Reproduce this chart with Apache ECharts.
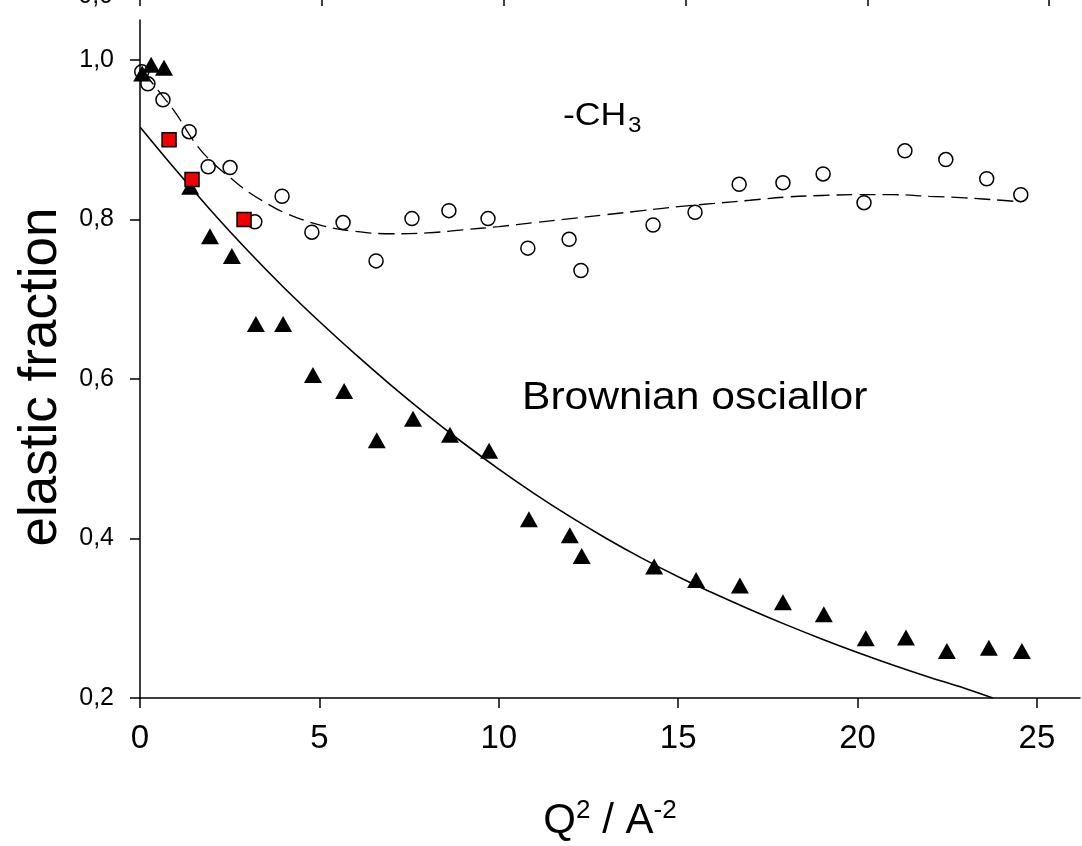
<!DOCTYPE html>
<html>
<head>
<meta charset="utf-8">
<script src="https://cdn.jsdelivr.net/npm/echarts@6/dist/echarts.min.js"></script>
<style>
html,body{margin:0;padding:0;background:#fff;}
#chart{width:1082px;height:846px;}
</style>
</head>
<body>
<div id="chart"></div>
<script>
// ---- data ----
var xTicks = [0, 5, 10, 15, 20, 25];
var yTicks = [0.2, 0.4, 0.6, 0.8, 1.0];

// open circles (-CH3)
var ch3X = [0.05, 0.22, 0.64, 1.37, 1.9, 2.51, 3.2, 3.96, 4.79, 5.66, 6.58, 7.58, 8.61, 9.7, 10.81, 11.96, 12.29, 14.3, 15.47, 16.7, 17.92, 19.04, 20.18, 21.32, 22.46, 23.6, 24.55];
var ch3Y = [0.985, 0.97, 0.95, 0.91, 0.866, 0.865, 0.797, 0.829, 0.784, 0.796, 0.748, 0.801, 0.811, 0.801, 0.764, 0.775, 0.736, 0.793, 0.809, 0.844, 0.846, 0.857, 0.821, 0.886, 0.875, 0.851, 0.831];

// filled triangles (Brownian oscillator)
var brX = [0.06, 0.31, 0.67, 1.4, 1.95, 2.56, 3.23, 3.99, 4.82, 5.69, 6.6, 7.61, 8.64, 9.73, 10.84, 11.98, 12.31, 14.33, 15.5, 16.72, 17.92, 19.06, 20.23, 21.35, 22.49, 23.66, 24.58];
var brY = [0.983, 0.994, 0.99, 0.841, 0.779, 0.754, 0.669, 0.669, 0.605, 0.585, 0.523, 0.55, 0.53, 0.51, 0.424, 0.404, 0.378, 0.365, 0.348, 0.341, 0.32, 0.305, 0.275, 0.276, 0.259, 0.263, 0.259];

// red squares
var redX = [0.81, 1.45, 2.9];
var redY = [0.9, 0.85, 0.8];

// solid fit curve
var fitBrX = [0, 1, 2, 3, 4, 5, 6, 7, 8, 9, 10, 11, 12, 13, 14, 15, 16, 17, 18, 19, 20, 21, 22, 23, 23.77];
var fitBrY = [0.916, 0.862, 0.81, 0.761, 0.715, 0.672, 0.631, 0.592, 0.555, 0.52, 0.487, 0.456, 0.427, 0.4, 0.375, 0.352, 0.331, 0.311, 0.292, 0.274, 0.257, 0.241, 0.226, 0.212, 0.2];

// dashed fit curve
var fitCh3X = [0.1, 0.5, 1, 1.5, 2, 2.5, 3, 3.5, 4, 5, 6, 7, 8, 9, 10, 11, 12, 13, 14, 15, 16, 17, 18, 19, 20, 21, 22, 23, 24, 24.55];
var fitCh3Y = [0.985, 0.962, 0.933, 0.898, 0.872, 0.853, 0.835, 0.821, 0.809, 0.793, 0.785, 0.782, 0.783, 0.787, 0.791, 0.796, 0.801, 0.806, 0.811, 0.816, 0.82, 0.824, 0.828, 0.83, 0.831, 0.831, 0.829, 0.827, 0.824, 0.822];

// cropped neighbouring panel above (only its bottom ticks are visible)
var upperXTicks = [0, 5, 10, 15, 20, 25];
var upperYLabel = '0,0';

function zip(a, b) { return a.map(function (v, i) { return [v, b[i]]; }); }
function comma(v, d) { return v.toFixed(d).replace('.', ','); }

var FONT = "'Liberation Sans', Arial, Helvetica, sans-serif";
var chart = echarts.init(document.getElementById('chart'), null, {renderer: 'canvas'});

var option = {
  backgroundColor: '#ffffff',
  animation: false,
  textStyle: {fontFamily: FONT, color: '#000'},
  grid: {left: 140, right: 2, top: 20, bottom: 148, containLabel: false, outerBoundsMode: 'none'},
  xAxis: [
    {
      type: 'value', min: 0, max: 26.2, position: 'bottom',
      axisLine: {show: true, onZero: false, lineStyle: {color: '#000', width: 1.5}},
      axisTick: {show: true, inside: false, length: 10, customValues: xTicks, lineStyle: {color: '#000', width: 1.5}},
      axisLabel: {show: true, customValues: xTicks, fontSize: 33, color: '#000', margin: 24, fontFamily: FONT,
                  formatter: function (v) { return String(v); }},
      splitLine: {show: false},
      name: '{b|Q}{s|2}{b| / A}{s|-2}', nameLocation: 'middle', nameGap: 100,
      nameTextStyle: {rich: {
        b: {fontSize: 42, fontFamily: FONT, color: '#000', lineHeight: 46},
        s: {fontSize: 26, fontFamily: FONT, color: '#000', verticalAlign: 'top', lineHeight: 46, padding: [0, 0, 22, 0]}
      }}
    },
    {
      // bottom axis of the cropped panel above
      type: 'value', min: 0, max: 25.85, position: 'top', offset: 21,
      axisLine: {show: true, onZero: false, lineStyle: {color: '#000', width: 1.5}},
      axisTick: {show: true, inside: true, length: 7, customValues: upperXTicks, lineStyle: {color: '#000', width: 1.5}},
      axisLabel: {show: false},
      splitLine: {show: false}
    }
  ],
  yAxis: {
    type: 'value', min: 0.2, max: 1.05,
    axisLine: {show: true, onZero: false, lineStyle: {color: '#000', width: 1.5}},
    axisTick: {show: true, inside: false, length: 10, customValues: yTicks, lineStyle: {color: '#000', width: 1.5}},
    axisLabel: {show: true, customValues: yTicks, fontSize: 25, color: '#000', margin: 26, fontFamily: FONT,
                formatter: function (v) { return comma(v, 1); }},
    splitLine: {show: false},
    name: 'elastic fraction', nameLocation: 'middle', nameGap: 69, nameRotate: 90,
    nameTextStyle: {fontSize: 53, fontFamily: FONT, color: '#000', padding: [0, 36, 0, 0]}
  },
  series: [
    {
      name: 'CH3 fit', type: 'line', xAxisIndex: 0, yAxisIndex: 0,
      data: zip(fitCh3X, fitCh3Y), smooth: 0.4, showSymbol: false, symbol: 'none',
      lineStyle: {color: '#000', width: 1.3, type: [16, 7]}, z: 2, silent: true
    },
    {
      name: 'Brownian fit', type: 'line', xAxisIndex: 0, yAxisIndex: 0,
      data: zip(fitBrX, fitBrY), smooth: 0.4, showSymbol: false, symbol: 'none',
      lineStyle: {color: '#000', width: 1.6}, z: 2, silent: true
    },
    {
      name: '-CH3', type: 'scatter', xAxisIndex: 0, yAxisIndex: 0,
      data: zip(ch3X, ch3Y), symbol: 'circle', symbolSize: 14,
      itemStyle: {color: 'rgba(255,255,255,0)', borderColor: '#000', borderWidth: 1.5, opacity: 1}, z: 3
    },
    {
      name: 'Brownian', type: 'scatter', xAxisIndex: 0, yAxisIndex: 0,
      data: zip(brX, brY), symbol: 'triangle', symbolSize: [18, 16],
      itemStyle: {color: '#000', opacity: 1}, z: 4
    },
    {
      name: 'red', type: 'scatter', xAxisIndex: 0, yAxisIndex: 0,
      data: zip(redX, redY), symbol: 'rect', symbolSize: 14,
      itemStyle: {color: '#f00000', borderColor: '#000', borderWidth: 1.5, opacity: 1}, z: 5
    }
  ],
  graphic: [
    {
      type: 'text', left: 563, top: 101, scaleX: 1.15, z: 10,
      style: {text: '-CH', fontFamily: FONT, fontSize: 31, fill: '#000'}
    },
    {
      type: 'text', left: 628, top: 115, scaleX: 1.1, z: 10,
      style: {text: '3', fontFamily: FONT, fontSize: 22, fill: '#000'}
    },
    {
      type: 'text', left: 522, top: 380, scaleX: 1.12, z: 10,
      style: {text: 'Brownian osciallor', fontFamily: FONT, fontSize: 38, fill: '#000'}
    },
    {
      type: 'text', right: 1082 - 113, top: -16, z: 10,
      style: {text: upperYLabel, fontFamily: FONT, fontSize: 25, fill: '#000'}
    }
  ]
};
chart.setOption(option);
</script>
</body>
</html>
